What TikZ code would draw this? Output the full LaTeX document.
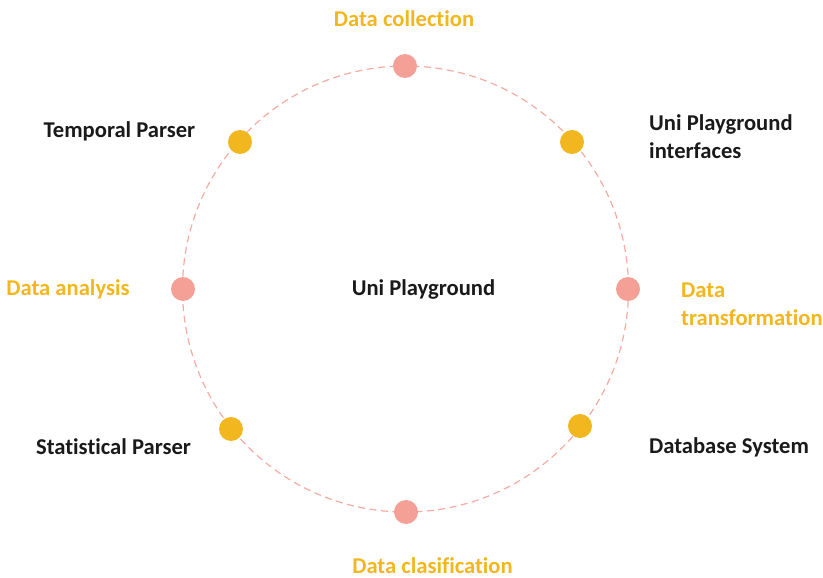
\documentclass[tikz,border=0pt]{standalone}
\usepackage{fontspec}
\setmainfont{Carlito}[Ligatures=NoCommon]
\definecolor{gold}{HTML}{F2B61F}
\definecolor{salmon}{HTML}{F4A096}
\definecolor{ringline}{HTML}{F5ABA2}
\definecolor{ink}{HTML}{1A1A1A}
\begin{document}
\begin{tikzpicture}[x=1pt,y=-1pt,
  lbl/.style={font=\fontsize{22.6}{27.8}\selectfont\bfseries, inner sep=0pt},
  stagelbl/.style={lbl, text=gold},
  partlbl/.style={lbl, text=ink},
  stagedot/.style={circle, fill=salmon, minimum size=24pt, inner sep=0pt},
  partdot/.style={circle, fill=gold, minimum size=24pt, inner sep=0pt},
  ring/.style={draw=ringline, line width=1.2pt, dash pattern=on 7pt off 4.5pt}]
\useasboundingbox (0,0) rectangle (823,578);
% dashed ring
\coordinate (c) at (405.5,289);
\draw[ring] (c) circle (223);
% stage dots (pink) and component dots (yellow)
\node[stagedot] (dtop) at (405,66) {};
\node[stagedot] (dbot) at (406,512) {};
\node[stagedot] (dleft) at (183,289) {};
\node[stagedot] (dright) at (628,289) {};
\node[partdot] (dtl) at (240,142) {};
\node[partdot] (dtr) at (572,142) {};
\node[partdot] (dbl) at (231,429) {};
\node[partdot] (dbr) at (580,426) {};
% labels
\node[stagelbl] (lcoll) at (404,19) {Data collection};
\node[partlbl] (ltemp) at (119.5,131) {Temporal Parser};
\node[partlbl, anchor=west, align=left] (lintf) at (649,137) {Uni Playground\\interfaces};
\node[stagelbl] (lana) at (68,289) {Data analysis};
\node[stagelbl, anchor=west, align=left] (ltrans) at (681,304) {Data\\transformation};
\node[partlbl] (lcenter) at (423.5,289) {Uni Playground};
\node[partlbl] (lstat) at (113.5,447) {Statistical Parser};
\node[partlbl] (ldb) at (729,447) {Database System};
\node[stagelbl] (lclas) at (432.5,566) {Data clasification};
\end{tikzpicture}
\end{document}
